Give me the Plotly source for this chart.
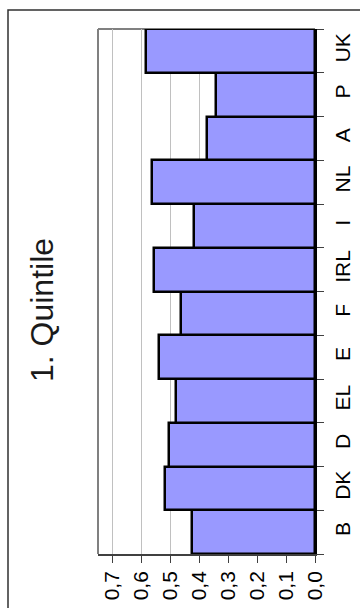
import plotly.graph_objects as go

# Share of the first income quintile by country
countries = ["B", "DK", "D", "EL", "E", "F", "IRL", "I", "NL", "A", "P", "UK"]
values = [0.425, 0.520, 0.504, 0.481, 0.539, 0.464, 0.557, 0.418, 0.564, 0.373, 0.343, 0.585]

tick_vals = [0.0, 0.1, 0.2, 0.3, 0.4, 0.5, 0.6, 0.7]
tick_text = ["0,0", "0,1", "0,2", "0,3", "0,4", "0,5", "0,6", "0,7"]

title_text = "1. Quintile"

W, H = 360, 608
L, R, T, B = 98, 45, 29, 54
pw, ph = W - L - R, H - T - B


def px_x(p):
    return (p - L) / pw


def px_y(p):
    return (H - B - p) / ph


font_family = "Liberation Sans, Arial, sans-serif"

fig = go.Figure(
    go.Bar(
        x=values,
        y=countries,
        orientation="h",
        marker=dict(color="#9999FF", line=dict(color="#000000", width=2.5)),
        hoverinfo="skip",
    )
)

fig.update_layout(
    width=W,
    height=H,
    margin=dict(l=L, r=R, t=T, b=B, pad=0, autoexpand=False),
    paper_bgcolor="white",
    plot_bgcolor="white",
    bargap=0,
    showlegend=False,
    font=dict(family=font_family, color="#000000", size=21),
    xaxis=dict(
        range=[0.75, 0],
        tickvals=tick_vals,
        ticktext=tick_text,
        tickangle=-90,
        showgrid=True,
        gridcolor="#c0c0c0",
        gridwidth=1,
        zeroline=False,
        showline=True,
        linecolor="#404040",
        linewidth=1.5,
        ticks="outside",
        ticklen=7,
        tickcolor="#404040",
        tickfont=dict(size=21),
        automargin=False,
        fixedrange=True,
    ),
    yaxis=dict(
        type="category",
        categoryorder="array",
        categoryarray=countries,
        side="right",
        tickangle=-90,
        showgrid=False,
        zeroline=False,
        showline=True,
        linecolor="#000000",
        linewidth=1.5,
        ticks="outside",
        ticklen=7,
        tickcolor="#404040",
        tickson="boundaries",
        ticklabelstandoff=8,
        tickfont=dict(size=21),
        automargin=False,
        fixedrange=True,
    ),
    shapes=[
        # outer chart frame
        dict(type="rect", xref="paper", yref="paper",
             x0=px_x(8), x1=px_x(420), y0=px_y(700), y1=px_y(10),
             line=dict(color="#303030", width=1.5), fillcolor="rgba(0,0,0,0)", layer="below"),
        # plot area border (left and top edges)
        dict(type="line", xref="paper", yref="paper",
             x0=0, x1=0, y0=0, y1=1, line=dict(color="#808080", width=2), layer="above"),
        dict(type="line", xref="paper", yref="paper",
             x0=0, x1=1, y0=1, y1=1, line=dict(color="#808080", width=2), layer="below"),
    ],
    annotations=[
        dict(text=title_text, xref="paper", yref="paper",
             x=px_x(42), y=px_y(310), textangle=-90, showarrow=False,
             font=dict(size=32, color="#1a1a1a", family=font_family),
             xanchor="center", yanchor="middle"),
    ],
)

fig.write_html("out.html", config={"displayModeBar": False})
